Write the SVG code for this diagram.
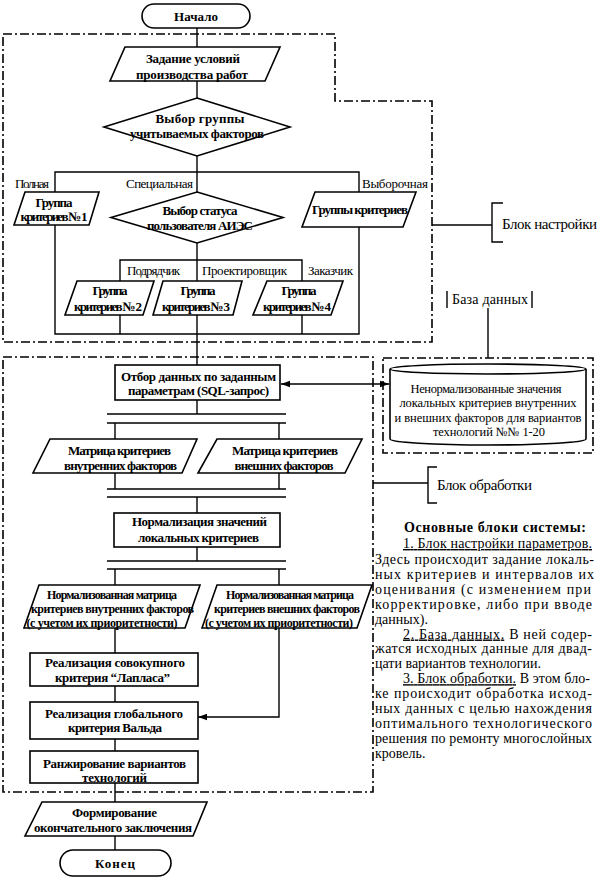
<svg xmlns="http://www.w3.org/2000/svg" width="600" height="878" viewBox="0 0 600 878" font-family="'Liberation Serif', 'Times New Roman', serif">
<defs>
<style>
.s{fill:#fff;stroke:#000;stroke-width:1.6}
.c{fill:none;stroke:#000;stroke-width:1.4}
.dd{fill:none;stroke:#000;stroke-width:1.6;stroke-dasharray:9 3 2 3}
.b{font-family:'Liberation Serif',serif;font-size:13px;font-weight:bold;text-anchor:middle}
.n{font-family:'Liberation Serif',serif;font-size:12px;font-weight:bold;text-anchor:middle}
.l{font-family:'Liberation Serif',serif;font-size:13px}
.cy{font-family:'Liberation Serif',serif;font-size:12.5px;text-anchor:middle}
.p{font-family:'Liberation Serif',serif;font-size:14px}
.u{text-decoration:underline}
</style>
<marker id="ah" viewBox="0 0 10 10" refX="10" refY="5" markerWidth="9" markerHeight="9" markerUnits="userSpaceOnUse" orient="auto-start-reverse"><path d="M0,1.5 L10,5 L0,8.5 Z" fill="#000"/></marker>
</defs>
<rect width="600" height="878" fill="#fff"/>

<g id="regions">
<path class="dd" d="M3,34 H335 V101 H432 V342 H3 Z"/>
<rect class="dd" x="3" y="357" width="370" height="435"/>
<rect class="dd" x="383" y="358" width="210" height="95"/>
</g>

<g id="connectors">
<path class="c" d="M197,28 V47"/>
<path class="c" d="M197,81 V98"/>
<path class="c" d="M197,156 V192"/>
<path class="c" d="M55,192 V172 H359 V192"/>
<path class="c" d="M55,225 V334 H359 V227"/>
<path class="c" d="M197,243 V281"/>
<path class="c" d="M120,281 V260 H302 V281"/>
<path class="c" d="M120,315 V334 M302,315 V334"/>
<path class="c" d="M197,315 V365"/>
<path class="c" d="M197,400 V414"/>
<path class="c" d="M107,414 H286 M107,423 H286"/>
<path class="c" d="M115,423 V439 M279,423 V439"/>
<path class="c" d="M115,473 V489 M279,473 V489"/>
<path class="c" d="M107,489 H286 M107,497 H286"/>
<path class="c" d="M197,497 V513"/>
<path class="c" d="M197,547 V561"/>
<path class="c" d="M107,561 H286 M107,569 H286"/>
<path class="c" d="M115,569 V585 M279,569 V585"/>
<path class="c" d="M115,628 V653"/>
<path class="c" d="M115,686 V702"/>
<path class="c" d="M115,739 V751"/>
<path class="c" d="M115,783 V802"/>
<path class="c" d="M115,836 V850"/>
<path class="c" d="M279,628 V717 H198" marker-end="url(#ah)"/>
<path class="c" d="M281,384 H389" marker-start="url(#ah)" marker-end="url(#ah)"/>
<path class="c" d="M488,308 V358"/>
<path class="c" d="M432,225 H492 M503,203 H492 V242 H503"/>
<path class="c" d="M373,483 H428 M437,467 H428 V503 H437"/>
<path class="c" d="M447,291 V308 M532,291 V308"/>
</g>

<g id="labels">
<text class="l" x="15" y="187.5" textLength="34">Полная</text>
<text class="l" x="126" y="187.5" textLength="67">Специальная</text>
<text class="l" x="362" y="187.5" textLength="66">Выборочная</text>
<text class="l" x="127" y="274.5" textLength="53">Подрядчик</text>
<text class="l" x="202" y="274.5" textLength="85">Проектировщик</text>
<text class="l" x="308" y="274.5" textLength="45">Заказчик</text>
</g>

<g id="n-start">
<rect class="s" x="142" y="4" width="108" height="24" rx="12"/>
<text class="b" x="196" y="20.5" textLength="44">Начало</text>
</g>
<g id="n-zadanie">
<path class="s" d="M125,47 H280 L265,81 H110 Z"/>
<text class="b" x="193" y="62.5" textLength="94">Задание условий</text>
<text class="b" x="192" y="78.5" textLength="112">производства работ</text>
</g>
<g id="n-vybor-gruppy">
<path class="s" d="M197,98 L290,127 L197,156 L104,127 Z"/>
<text class="b" x="200" y="122.5" textLength="89">Выбор группы</text>
<text class="b" x="197" y="137.5" textLength="134">учитываемых факторов</text>
</g>
<g id="n-gruppa1">
<path class="s" d="M25,192 H99 L89,225 H14 Z"/>
<text class="b" x="54" y="206.5" textLength="37">Группа</text>
<text class="b" x="54" y="220.5" textLength="67">критериев № 1</text>
</g>
<g id="n-vybor-statusa">
<path class="s" d="M197,192 L283,217.5 L197,243 L111,217.5 Z"/>
<text class="b" x="200" y="214.5" textLength="75">Выбор статуса</text>
<text class="b" x="200" y="229.5" textLength="106">пользователя АИЭС</text>
</g>
<g id="n-gruppy-kriteriev">
<path class="s" d="M315,192 H416 L403,227 H302 Z"/>
<text class="b" x="360" y="213.5" textLength="96">Группы критериев</text>
</g>
<g id="n-gruppa2">
<path class="s" d="M77,281 H154 L143,315 H65 Z"/>
<text class="b" x="110" y="294.5" textLength="35">Группа</text>
<text class="b" x="108" y="310.5" textLength="68">критериев № 2</text>
</g>
<g id="n-gruppa3">
<path class="s" d="M163,281 H242 L233,315 H153 Z"/>
<text class="b" x="198" y="294.5" textLength="35">Группа</text>
<text class="b" x="196" y="310.5" textLength="68">критериев № 3</text>
</g>
<g id="n-gruppa4">
<path class="s" d="M267,281 H343 L331,315 H253 Z"/>
<text class="b" x="299" y="294.5" textLength="35">Группа</text>
<text class="b" x="297" y="310.5" textLength="68">критериев № 4</text>
</g>

<g id="n-otbor">
<rect class="s" x="115" y="365" width="165" height="35"/>
<text class="b" x="198.5" y="380.5" textLength="155">Отбор данных по заданным</text>
<text class="b" x="198.5" y="394.5" textLength="141">параметрам (SQL-запрос)</text>
</g>
<g id="n-db">
<path class="s" d="M390,369 V439 A98,6 0 0 0 586,439 V369"/>
<ellipse class="s" cx="488" cy="369" rx="98" ry="5"/>
<text class="cy" x="486" y="393" textLength="151">Ненормализованные значения</text>
<text class="cy" x="488" y="407" textLength="177">локальных критериев внутренних</text>
<text class="cy" x="488" y="422" textLength="187">и внешних факторов для вариантов</text>
<text class="cy" x="489" y="436" textLength="112">технологий №№ 1-20</text>
</g>
<g id="n-db-label">
<text x="490" y="304" text-anchor="middle" font-size="14" textLength="76">База данных</text>
</g>
<g id="n-blok-nastroyki">
<text x="502" y="229" font-size="15" textLength="95">Блок настройки</text>
</g>
<g id="n-blok-obrabotki">
<text x="437" y="490" font-size="15" textLength="95">Блок обработки</text>
</g>

<g id="n-matr-vnutr">
<path class="s" d="M50,439 H197 L182,473 H33 Z"/>
<text class="b" x="119.5" y="454.5" textLength="103">Матрица критериев</text>
<text class="b" x="120.5" y="469.5" textLength="113">внутренних факторов</text>
</g>
<g id="n-matr-vnesh">
<path class="s" d="M217,439 H362 L345,473 H198 Z"/>
<text class="b" x="285" y="454.5" textLength="106">Матрица критериев</text>
<text class="b" x="284" y="469.5" textLength="99">внешних факторов</text>
</g>
<g id="n-normalizatsiya">
<rect class="s" x="114" y="513" width="166" height="34"/>
<text class="b" x="199.5" y="525.5" textLength="135">Нормализация значений</text>
<text class="b" x="198.5" y="541.5" textLength="121">локальных критериев</text>
</g>
<g id="n-norm-vnutr">
<path class="s" d="M39,585 H200 L185,628 H24 Z"/>
<text class="n" x="112" y="599" textLength="130">Нормализованная матрица</text>
<text class="n" x="112.5" y="613" textLength="163">критериев внутренних факторов</text>
<text class="n" x="102" y="627" textLength="151">(с учетом их приоритетности)</text>
</g>
<g id="n-norm-vnesh">
<path class="s" d="M217,585 H372 L357,628 H202 Z"/>
<text class="n" x="290" y="599" textLength="128">Нормализованная матрица</text>
<text class="n" x="287" y="613" textLength="146">критериев внешних факторов</text>
<text class="n" x="279" y="627" textLength="148">(с учетом их приоритетности)</text>
</g>
<g id="n-laplas">
<rect class="s" x="30" y="653" width="168" height="33"/>
<text class="b" x="115" y="666.5" textLength="140">Реализация совокупного</text>
<text class="b" x="112.5" y="681.5" textLength="115">критерия  “Лапласа”</text>
</g>
<g id="n-vald">
<rect class="s" x="30" y="702" width="168" height="37"/>
<text class="b" x="114" y="717.5" textLength="138">Реализация глобального</text>
<text class="b" x="115" y="731.5" textLength="94">критерия Вальда</text>
</g>
<g id="n-ranzh">
<rect class="s" x="30" y="751" width="168" height="32"/>
<text class="b" x="114.5" y="767.5" textLength="143">Ранжирование вариантов</text>
<text class="b" x="114.5" y="781.5" textLength="65">технологий</text>
</g>
<g id="n-formirovanie">
<path class="s" d="M42,802 H207 L193,836 H25 Z"/>
<text class="b" x="114.5" y="816.5" textLength="85">Формирование</text>
<text class="b" x="113" y="831.5" textLength="158">окончательного заключения</text>
</g>
<g id="n-end">
<rect class="s" x="60" y="850" width="111" height="26" rx="13"/>
<text class="b" x="115" y="867.5" textLength="40">Конец</text>
</g>

<g id="legend">
<text class="p" x="404" y="532" font-weight="bold" font-size="15" textLength="182">Основные блоки системы:</text>
<text class="p" x="403" y="548" textLength="189" lengthAdjust="spacing"><tspan class="u">1. Блок настройки параметров.</tspan></text>
<text class="p" x="375" y="564" textLength="219" lengthAdjust="spacing">Здесь происходит задание локаль-</text>
<text class="p" x="375" y="578.9" textLength="219" lengthAdjust="spacing">ных критериев и интервалов их</text>
<text class="p" x="375" y="593.8" textLength="216" lengthAdjust="spacing">оценивания (с  изменением при</text>
<text class="p" x="375" y="608.7" textLength="217" lengthAdjust="spacing">корректировке, либо при вводе</text>
<text class="p" x="375" y="623.6">данных).</text>
<text class="p" x="403" y="638.5" textLength="189" lengthAdjust="spacing"><tspan class="u">2. База данных.</tspan> В ней содер-</text>
<text class="p" x="375" y="653.4" textLength="217" lengthAdjust="spacing">жатся исходных данные для двад-</text>
<text class="p" x="375" y="668.3">цати вариантов технологии.</text>
<text class="p" x="403" y="683.2" textLength="187" lengthAdjust="spacing"><tspan class="u">3. Блок обработки.</tspan> В этом бло-</text>
<text class="p" x="375" y="698.1" textLength="217" lengthAdjust="spacing">ке происходит обработка исход-</text>
<text class="p" x="375" y="713" textLength="217" lengthAdjust="spacing">ных данных с целью нахождения</text>
<text class="p" x="375" y="727.9" textLength="217" lengthAdjust="spacing">оптимального технологического</text>
<text class="p" x="375" y="742.8" textLength="217" lengthAdjust="spacing">решения по ремонту многослойных</text>
<text class="p" x="375" y="757.7">кровель.</text>
</g>
</svg>
